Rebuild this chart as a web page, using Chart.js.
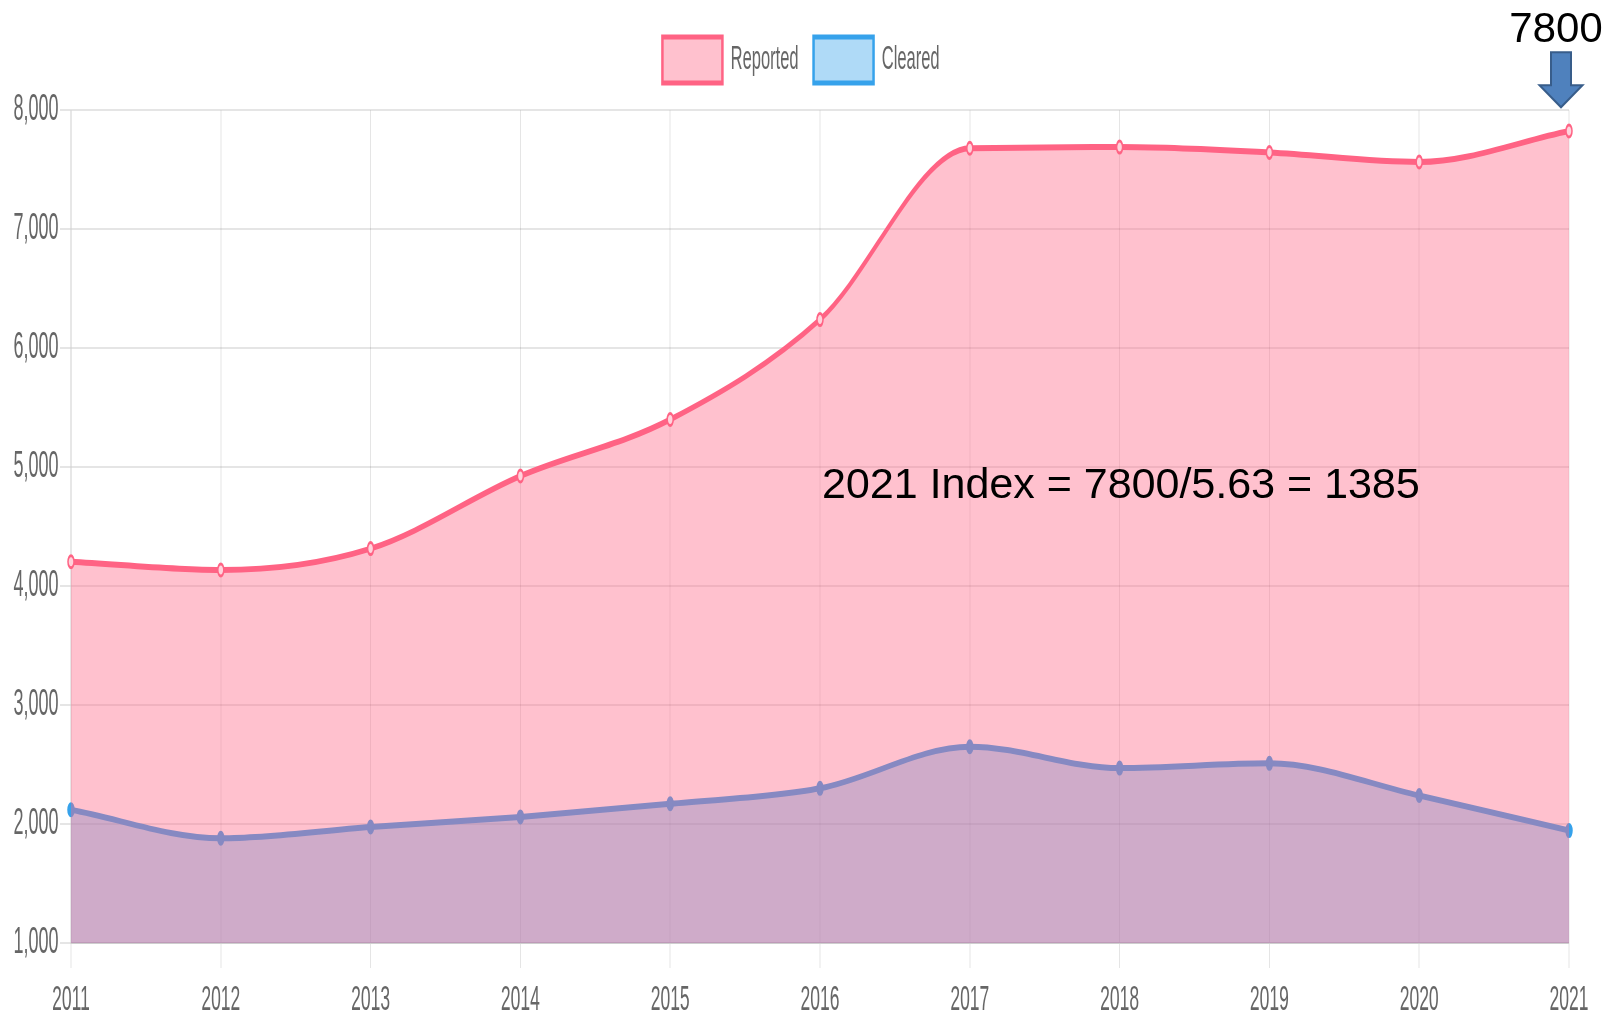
<!DOCTYPE html>
<html>
<head>
<meta charset="utf-8">
<title>Reported vs Cleared</title>
<script src="https://cdn.jsdelivr.net/npm/chart.js@4.4.0/dist/chart.umd.min.js"></script>
<style>
    html, body { margin: 0; padding: 0; background: #fff; overflow: hidden; }
    #chart { display: block; }
</style>
</head>
<body>
<!-- the source picture is squeezed sideways to about half width, so draw on a canvas twice as wide -->
<canvas id="chart" width="3244" height="1016" style="width:1622px;height:1016px"></canvas>
<script>
const years = ['2011', '2012', '2013', '2014', '2015', '2016', '2017', '2018', '2019', '2020', '2021'];
const reported = [4205, 4135, 4315, 4925, 5400, 6240, 7680, 7690, 7645, 7565, 7825];
const cleared = [2120, 1880, 1975, 2060, 2170, 2300, 2650, 2470, 2510, 2240, 1945];

const yMin = 1000;
const yMax = 8000;
const yStep = 1000;

const topNote = '7800';
const indexNote = '2021 Index = 7800/5.63 = 1385';

const SX = 2; // horizontal squeeze factor

Chart.defaults.font.family = "'Liberation Sans', Arial, sans-serif";
Chart.defaults.color = '#666';

// texts and arrow added on top of the chart (not squeezed)
const notes = {
    id: 'notes',
    afterLayout(chart) {
        // legend sits a little right of centre in the source
        chart.legend.left += 22;
        chart.legend.right += 22;
    },
    afterDraw(chart) {
        const ctx = chart.ctx;
        const xs = chart.scales.x;
        const ys = chart.scales.y;
        ctx.save();
        ctx.scale(SX, 1);

        // arrow pointing down at the last point
        const cx = xs.getPixelForValue(years.length - 1) / SX - 8;
        const top = ys.top - 58;
        ctx.beginPath();
        ctx.moveTo(cx - 10, top);
        ctx.lineTo(cx + 10, top);
        ctx.lineTo(cx + 10, top + 33);
        ctx.lineTo(cx + 21.5, top + 33);
        ctx.lineTo(cx, top + 55);
        ctx.lineTo(cx - 21.5, top + 33);
        ctx.lineTo(cx - 10, top + 33);
        ctx.closePath();
        ctx.fillStyle = '#4f81bd';
        ctx.fill();
        ctx.lineWidth = 2;
        ctx.strokeStyle = '#385d8a';
        ctx.stroke();

        ctx.fillStyle = '#000';
        ctx.font = "42px 'Liberation Sans', Arial, sans-serif";
        ctx.textBaseline = 'alphabetic';
        ctx.textAlign = 'center';
        ctx.fillText(topNote, cx - 5, top - 10);

        ctx.font = "43px 'Liberation Sans', Arial, sans-serif";
        ctx.textAlign = 'left';
        ctx.fillText(indexNote, xs.getPixelForValue(5) / SX + 2, ys.getPixelForValue(4740));
        ctx.restore();
    }
};

const ctx = document.getElementById('chart').getContext('2d');
new Chart(ctx, {
    type: 'line',
    data: {
        labels: years,
        datasets: [{
            label: 'Reported',
            data: reported,
            borderColor: 'rgb(255, 99, 132)',
            backgroundColor: 'rgba(255, 99, 132, 0.4)',
            fill: 'start',
            borderWidth: 6,
            cubicInterpolationMode: 'monotone',
            pointRadius: 6,
            pointBorderWidth: 3,
            pointBorderColor: 'rgb(255, 99, 132)',
            pointBackgroundColor: '#ffd3dc'
        }, {
            label: 'Cleared',
            data: cleared,
            borderColor: 'rgb(54, 162, 235)',
            backgroundColor: 'rgba(54, 162, 235, 0.4)',
            fill: 'start',
            borderWidth: 6,
            cubicInterpolationMode: 'monotone',
            pointRadius: 6,
            pointBorderWidth: 3,
            pointBorderColor: 'rgb(54, 162, 235)',
            pointBackgroundColor: 'rgb(54, 162, 235)'
        }]
    },
    options: {
        responsive: false,
        animation: false,
        devicePixelRatio: 1,
        layout: { padding: { left: 22, right: 106, top: 7, bottom: 0 } },
        plugins: {
            legend: {
                display: true,
                labels: {
                    boxWidth: 120,
                    boxHeight: 46,
                    padding: 30,
                    color: '#666',
                    font: { size: 33 },
                    generateLabels(chart) {
                        const items = Chart.defaults.plugins.legend.labels.generateLabels(chart);
                        items.forEach(i => { i.lineWidth = 5; });
                        return items;
                    }
                }
            },
            // empty spacer between legend and plot
            title: {
                display: true,
                text: ' ',
                weight: 500,
                font: { size: 1 },
                padding: { top: 0, bottom: 16 }
            },
            tooltip: { enabled: false }
        },
        scales: {
            x: {
                grid: { color: 'rgba(0,0,0,0.1)', lineWidth: 2, tickLength: 25 },
                border: { color: 'rgba(0,0,0,0.1)', width: 2 },
                ticks: { font: { size: 35 }, color: '#666', padding: 11, maxRotation: 0, autoSkip: false },
                afterFit: s => { s.height = 73; }
            },
            y: {
                min: yMin,
                max: yMax,
                grid: { color: 'rgba(0,0,0,0.1)', lineWidth: 2, tickLength: 22 },
                border: { color: 'rgba(0,0,0,0.1)', width: 2 },
                ticks: {
                    stepSize: yStep,
                    font: { size: 36 },
                    color: '#666',
                    padding: 3,
                    callback: v => v.toLocaleString('en-US')
                },
                afterFit: s => { s.width = 120; }
            }
        }
    },
    plugins: [notes]
});
</script>
</body>
</html>
